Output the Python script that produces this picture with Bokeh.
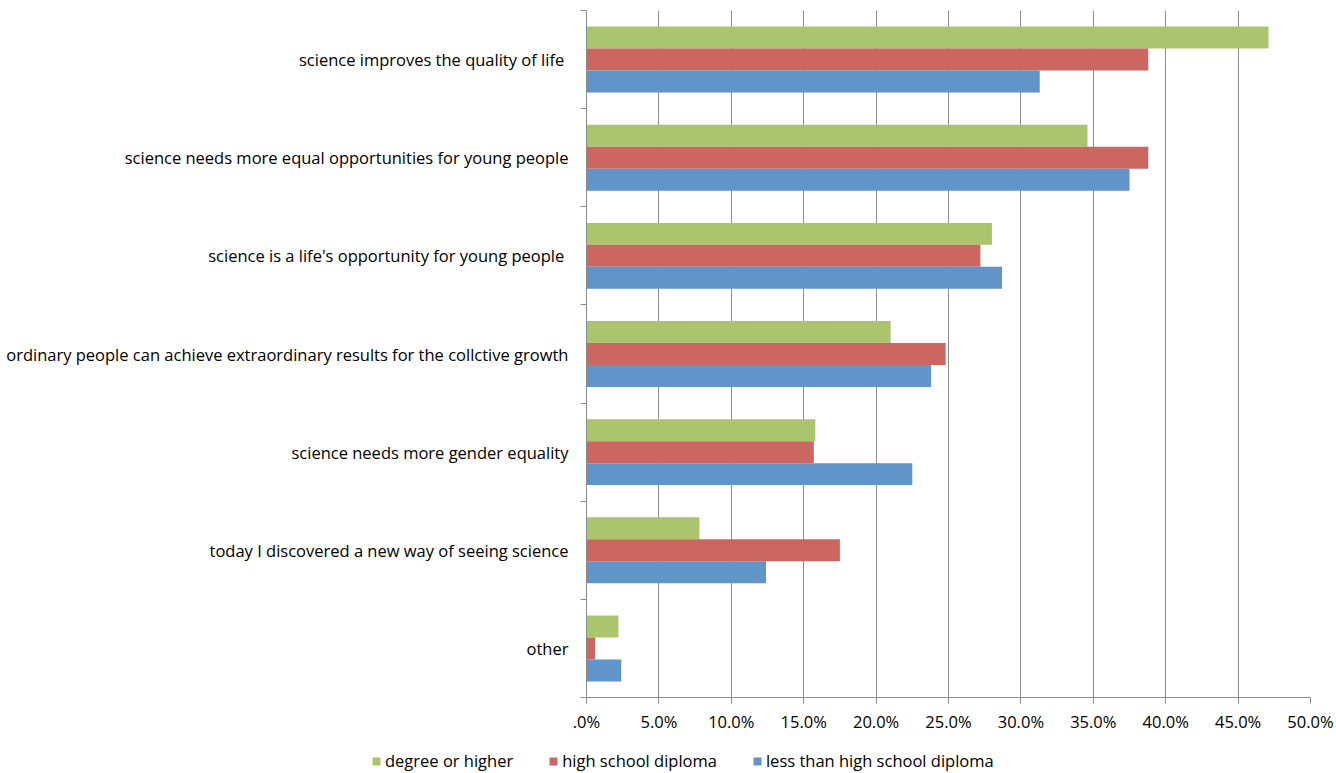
import numpy as np
from bokeh.plotting import figure
from bokeh.layouts import column, row
from bokeh.models import Range1d, FixedTicker, Legend, LegendItem, ColumnDataSource
from bokeh.embed import file_html
from bokeh.resources import INLINE

categories = [
    "science improves the quality of life ",
    "science needs more equal opportunities for young people",
    "science is a life's opportunity for young people ",
    "ordinary people can achieve extraordinary results for the collctive growth",
    "science needs more gender equality",
    "today I discovered a new way of seeing science",
    "other",
]
series_names = ["degree or higher", "high school diploma", "less than high school diploma"]
degree = [0.471, 0.346, 0.280, 0.210, 0.158, 0.078, 0.022]
high_school = [0.388, 0.388, 0.272, 0.248, 0.157, 0.175, 0.006]
less_than = [0.313, 0.375, 0.287, 0.238, 0.225, 0.124, 0.024]
x_ticks = [0.0, 0.05, 0.10, 0.15, 0.20, 0.25, 0.30, 0.35, 0.40, 0.45, 0.50]
x_tick_labels = [".0%", "5.0%", "10.0%", "15.0%", "20.0%", "25.0%", "30.0%", "35.0%", "40.0%", "45.0%", "50.0%"]

colors = ["#ABC46E", "#CC6660", "#6194C8"]
FONT = "Open Sans"
FSIZE = "16.5px"
GRAY = "#8C8C8C"

n = len(categories)
centers = np.arange(n) + 0.5
bar_h = 0.224
offsets = [-bar_h, 0.0, bar_h]

p = figure(width=1336, height=740, output_backend="svg", toolbar_location=None,
           x_range=Range1d(0, 0.5), y_range=Range1d(n, 0),
           min_border_left=586, min_border_right=26, min_border_top=10, min_border_bottom=43)
p.outline_line_color = None
p.background_fill_color = "white"

sources = []
for vals, off, col in zip([degree, high_school, less_than], offsets, colors):
    src = ColumnDataSource(dict(y=centers + off, right=vals))
    sources.append(src)
    p.hbar(y="y", left=0, right="right", height=bar_h, source=src,
           fill_color=col, line_color=None)

# x axis
p.xaxis.ticker = FixedTicker(ticks=x_ticks, minor_ticks=[])
p.xaxis.major_label_overrides = {t: l for t, l in zip(x_ticks, x_tick_labels)}
p.xaxis.axis_line_color = GRAY
p.xaxis.major_tick_line_color = GRAY
p.xaxis.major_tick_out = 6
p.xaxis.major_tick_in = 0
p.xaxis.minor_tick_line_color = None
p.xaxis.major_label_text_font = FONT
p.xaxis.major_label_text_font_size = FSIZE
p.xaxis.major_label_text_color = "black"
p.xaxis.major_label_standoff = 6

# y axis
p.yaxis.ticker = FixedTicker(ticks=list(centers), minor_ticks=list(np.arange(n + 1)))
p.yaxis.major_label_overrides = {float(c): cat for c, cat in zip(centers, categories)}
p.yaxis.axis_line_color = GRAY
p.yaxis.major_tick_line_color = None
p.yaxis.major_tick_out = 0
p.yaxis.major_tick_in = 0
p.yaxis.minor_tick_line_color = GRAY
p.yaxis.minor_tick_out = 6
p.yaxis.minor_tick_in = 0
p.yaxis.major_label_text_font = FONT
p.yaxis.major_label_text_font_size = FSIZE
p.yaxis.major_label_text_color = "black"
p.yaxis.major_label_standoff = 12

p.xgrid.grid_line_color = GRAY
p.xgrid.grid_line_width = 1
p.ygrid.grid_line_color = None

# legend strip below the chart
lg = figure(width=1336, height=33, output_backend="svg", toolbar_location=None,
            x_range=Range1d(0, 1), y_range=Range1d(0, 1),
            x_axis_type=None, y_axis_type=None,
            min_border_left=0, min_border_right=0, min_border_top=0, min_border_bottom=0)
lg.outline_line_color = None
lg.xgrid.visible = False
lg.ygrid.visible = False
for fig in (p, lg):
    if "frame_align" in fig.properties():
        fig.frame_align = False
items = []
for nm, col, src in zip(series_names, colors, sources):
    r = lg.hbar(y="y", left=0, right="right", height=bar_h, source=src,
                fill_color=col, line_color=None, visible=False)
    items.append(LegendItem(label=nm, renderers=[r]))
legend = Legend(items=items, orientation="horizontal", location=(371, 1),
                glyph_width=10, glyph_height=10, label_standoff=4, spacing=35,
                padding=0, margin=0, border_line_color=None, background_fill_alpha=0,
                label_text_font=FONT, label_text_font_size=FSIZE, label_text_color="black",
                label_height=16)
lg.add_layout(legend)

layout = column(p, row(lg, spacing=0), spacing=0)
open("out.html", "w").write(file_html(layout, INLINE))
